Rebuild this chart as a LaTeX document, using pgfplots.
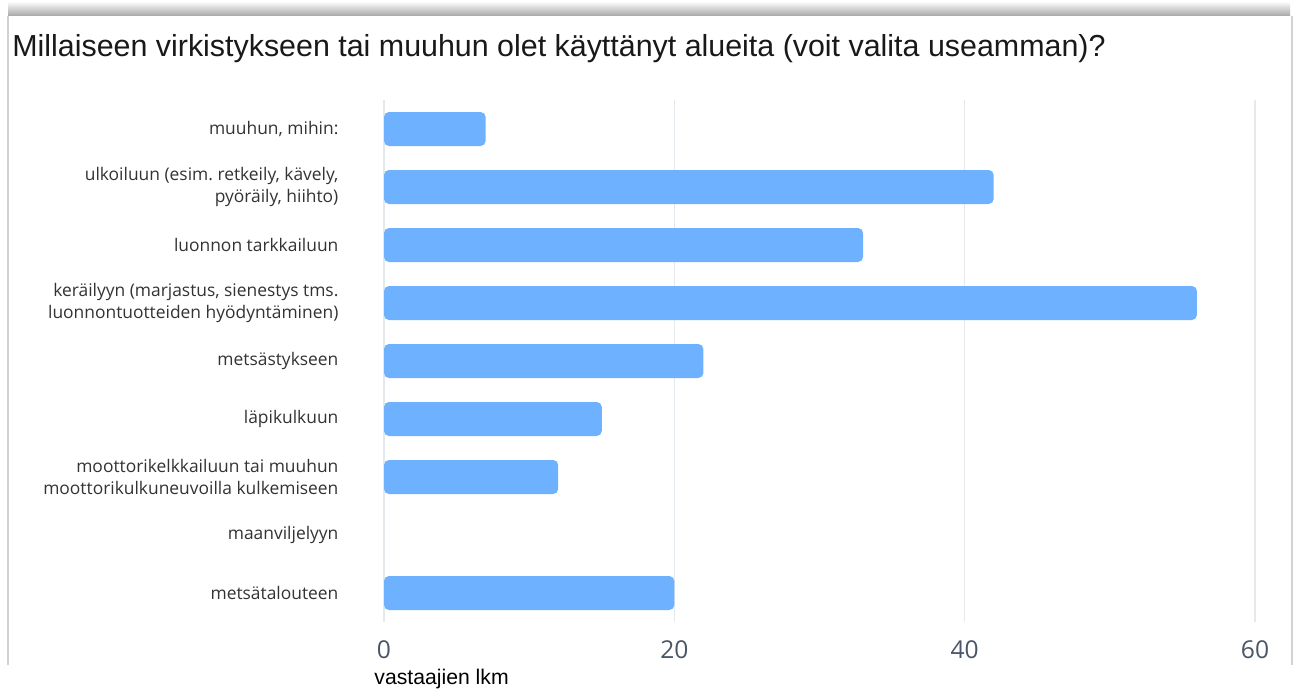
\documentclass[border=0pt]{standalone}
\usepackage{fontspec}
\setmainfont{Open Sans}
\newfontfamily\arialfont{Liberation Sans}
\usepackage{pgfplots}
\pgfplotsset{compat=1.18}
\definecolor{barblue}{HTML}{6EB2FF}
\definecolor{gridc}{HTML}{E3E9ED}
\definecolor{tickc}{HTML}{4A5567}
\definecolor{labc}{HTML}{333333}
\frenchspacing

\begin{document}
\begin{tikzpicture}
% page frame (0.5pt per reference pixel)
\fill[white] (0pt,0pt) rectangle (647.5pt,344.5pt);
\shade[top color=gray!8, bottom color=gray!70] (4pt,336.5pt) rectangle (645pt,343pt);
\draw[gray!35, line width=0.7pt] (4pt,336.5pt) -- (4pt,12pt);
\draw[gray!35, line width=0.7pt] (646pt,336.5pt) -- (646pt,12pt);

\node[anchor=base west, inner sep=0, font=\arialfont\fontsize{15.2}{18}\selectfont, text=black!90]
  at (6pt,316pt) {Millaiseen virkistykseen tai muuhun olet käyttänyt alueita (voit valita useamman)?};

\begin{axis}[
  at={(192pt,33.5pt)}, anchor=south west,
  scale only axis, width=435.5pt, height=261pt,
  xbar, bar width=17pt,
  xmin=0, xmax=60, ymin=-0.5, ymax=8.5,
  y dir=reverse,
  axis line style={draw=none},
  major tick style={draw=none},
  xtick={0,20,40,60},
  xmajorgrids, grid style={gridc, line width=0.8pt},
  ytick={0,...,8},
  yticklabels={
    {muuhun, mihin:},
    {ulkoiluun (esim. retkeily, kävely,\\pyöräily, hiihto)},
    {luonnon tarkkailuun},
    {keräilyyn (marjastus, sienestys tms.\\luonnontuotteiden hyödyntäminen)},
    {metsästykseen},
    {läpikulkuun},
    {moottorikelkkailuun tai muuhun\\moottorikulkuneuvoilla kulkemiseen},
    {maanviljelyyn},
    {metsätalouteen}},
  yticklabel style={anchor=east, xshift=-15pt, align=right, text=labc,
    font=\fontsize{8.7}{11}\selectfont},
  xticklabel style={yshift=-6pt, text=tickc, font=\fontsize{12.3}{14}\selectfont},
  /pgf/number format/assume math mode=true,
]
% zero-length bar (maanviljelyyn) is filtered out so no hairline is drawn
\addplot[fill=barblue, draw=none, rounded corners=2.5pt,
  restrict x to domain=0.01:100]
  coordinates {
    (7,0) (42,1) (33,2) (56,3) (22,4) (15,5) (12,6) (0,7) (20,8)
  };
\end{axis}

\node[anchor=west, inner sep=0, font=\arialfont\fontsize{10.6}{12}\selectfont, text=black]
  at (187pt,5pt) {vastaajien lkm};
\end{tikzpicture}
\end{document}
